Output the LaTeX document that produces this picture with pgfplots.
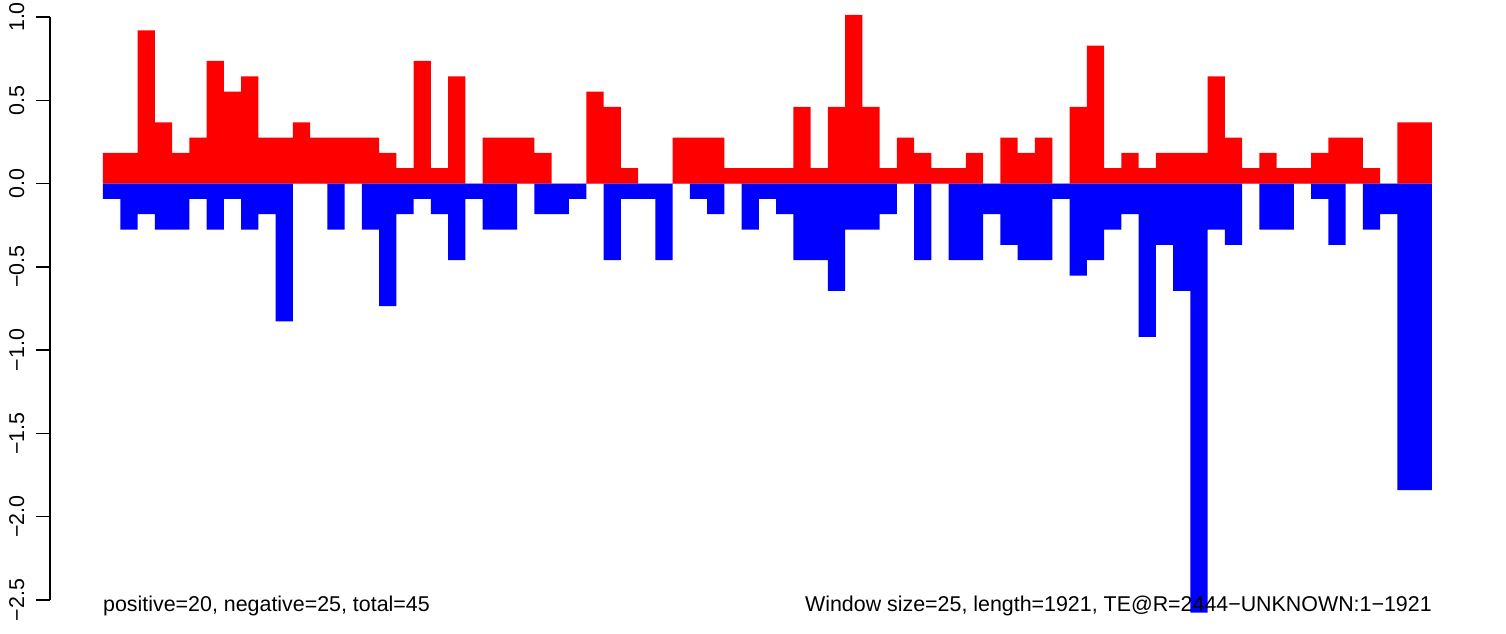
\documentclass[border=0pt]{standalone}
\usepackage{fontspec}
\setmainfont{Liberation Sans}
\usepackage{pgfplots}
\usepackage{pgfplotstable}
\pgfplotsset{compat=1.18}

\pgfplotstableread{
x pos neg
0 0.184 -0.092
1 0.184 -0.276
2 0.920 -0.184
3 0.368 -0.276
4 0.184 -0.276
5 0.276 -0.092
6 0.736 -0.276
7 0.552 -0.092
8 0.644 -0.276
9 0.276 -0.184
10 0.276 -0.828
11 0.368 0
12 0.276 0
13 0.276 -0.276
14 0.276 0
15 0.276 -0.276
16 0.184 -0.736
17 0.092 -0.184
18 0.736 -0.092
19 0.092 -0.184
20 0.644 -0.460
21 0 -0.092
22 0.276 -0.276
23 0.276 -0.276
24 0.276 0
25 0.184 -0.184
26 0 -0.184
27 0 -0.092
28 0.552 0
29 0.460 -0.460
30 0.092 -0.092
31 0 -0.092
32 0 -0.460
33 0.276 0
34 0.276 -0.092
35 0.276 -0.184
36 0.092 0
37 0.092 -0.276
38 0.092 -0.092
39 0.092 -0.184
40 0.460 -0.460
41 0.092 -0.460
42 0.460 -0.644
43 1.012 -0.276
44 0.460 -0.276
45 0.092 -0.184
46 0.276 0
47 0.184 -0.460
48 0.092 0
49 0.092 -0.460
50 0.184 -0.460
51 0 -0.184
52 0.276 -0.368
53 0.184 -0.460
54 0.276 -0.460
55 0 -0.092
56 0.460 -0.552
57 0.828 -0.460
58 0.092 -0.276
59 0.184 -0.184
60 0.092 -0.920
61 0.184 -0.368
62 0.184 -0.644
63 0.184 -2.576
64 0.644 -0.276
65 0.276 -0.368
66 0.092 0
67 0.184 -0.276
68 0.092 -0.276
69 0.092 0
70 0.184 -0.092
71 0.276 -0.368
72 0.276 0
73 0.092 -0.276
74 0 -0.184
75 0.368 -1.840
76 0.368 -1.840
77 0.368 -1.840
}\windata

\newcommand{\rfont}{\fontsize{21.4}{25}\selectfont}

\begin{document}
\begin{tikzpicture}
\begin{axis}[
  scale only axis, width=1435.3pt, height=634pt,
  xmin=-3.08, xmax=80.08, ymin=-2.704, ymax=1.102,
  clip=false,
  axis x line=none,
  axis y line*=left,
  y axis line style={draw=none},
  ytick={-2.5,-2,-1.5,-1,-0.5,0,0.5,1},
  yticklabels={−2.5,−2.0,−1.5,−1.0,−0.5,0.0,0.5,1.0},
  tick align=outside,
  major tick length=13.5pt,
  every tick/.append style={black, line width=1.4pt},
  yticklabel style={xshift=-12pt, rotate=90, anchor=south, inner sep=0pt, outer sep=0pt, font=\rfont},
]
\addplot[ybar interval, fill=red, draw=none] table[x=x, y=pos]{\windata};
\addplot[ybar interval, fill=blue, draw=none] table[x=x, y=neg]{\windata};
\draw[line width=1.4pt] (axis cs:-3.08,-2.5) -- (axis cs:-3.08,1.0);
\node[anchor=base west, inner sep=0pt, font=\rfont] at (axis cs:0,-2.566) {positive=20, negative=25, total=45};
\node[anchor=base east, inner sep=0pt, font=\rfont] at (axis cs:77,-2.566) {Window size=25, length=1921, TE@R=2444−UNKNOWN:1−1921};
\coordinate (sw) at (rel axis cs:0,0);
\coordinate (ne) at (rel axis cs:1,1);
\end{axis}
\pgfresetboundingbox
\path ([xshift=-49.84pt]sw) rectangle ([xshift=20.9pt]ne);
\end{tikzpicture}
\end{document}
